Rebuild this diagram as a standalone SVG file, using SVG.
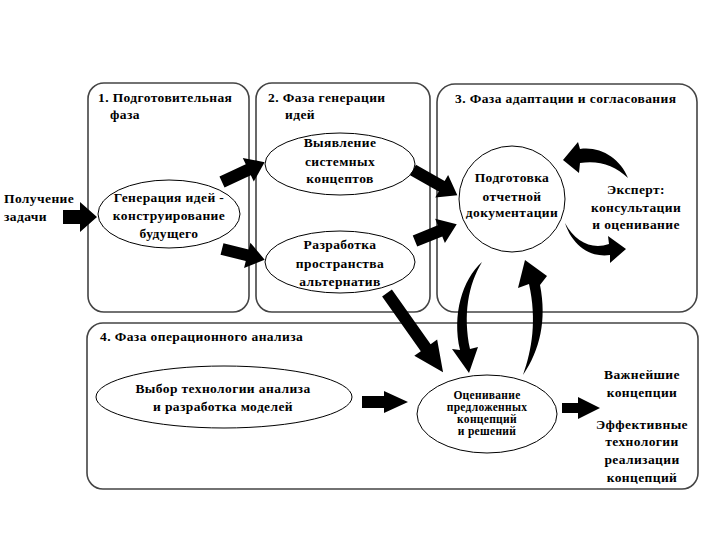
<svg xmlns="http://www.w3.org/2000/svg" width="720" height="540" viewBox="0 0 720 540" font-family="'Liberation Serif', 'DejaVu Serif', serif">
<style>
text{font-family:'Liberation Serif','DejaVu Serif',serif;font-weight:bold;font-size:13.5px;letter-spacing:0.4px;fill:#000}
.c{text-anchor:middle}
.s{font-size:11.5px;letter-spacing:0.3px}
.box{fill:none;stroke:#444;stroke-width:1.6}
.nd{fill:#fff;stroke:#000;stroke-width:1}
.ar{fill:#000;stroke:none}
</style>
<rect width="720" height="540" fill="#fff"/>
<g id="phase1"><rect class="box" x="88" y="83" width="161" height="229" rx="16"/>
<text x="98" y="102">1. Подготовительная</text><text x="110" y="119">фаза</text></g>
<g id="phase2"><rect class="box" x="256" y="83" width="174" height="229" rx="16"/>
<text x="268" y="102">2. Фаза генерации</text><text x="285" y="119">идей</text></g>
<g id="phase3"><rect class="box" x="437" y="84" width="260" height="228" rx="18"/>
<text x="455" y="103">3. Фаза адаптации и согласования</text></g>
<g id="phase4"><rect class="box" x="87" y="323" width="611" height="166" rx="16"/>
<text x="100" y="341">4. Фаза операционного анализа</text></g>

<g id="input"><text x="4" y="203">Получение</text><text x="4" y="221">задачи</text></g>
<g id="gen"><ellipse class="nd" cx="169" cy="214" rx="71" ry="34"/>
<text class="c" x="169" y="202">Генерация идей -</text><text class="c" x="169" y="220">конструирование</text><text class="c" x="169" y="238">будущего</text></g>
<g id="reveal"><ellipse class="nd" cx="340" cy="164" rx="75" ry="31"/>
<text class="c" x="340" y="147">Выявление</text><text class="c" x="340" y="166">системных</text><text class="c" x="340" y="183">концептов</text></g>
<g id="develop"><ellipse class="nd" cx="340" cy="262" rx="75" ry="31"/>
<text class="c" x="340" y="249">Разработка</text><text class="c" x="340" y="268">пространства</text><text class="c" x="340" y="286">альтернатив</text></g>
<g id="docs"><circle class="nd" cx="512" cy="199" r="53"/>
<text class="c" x="512" y="182">Подготовка</text><text class="c" x="512" y="201">отчетной</text><text class="c" x="512" y="217">документации</text></g>
<g id="expert"><text class="c" x="636" y="194">Эксперт:</text><text class="c" x="636" y="212">консультации</text><text class="c" x="636" y="229">и оценивание</text></g>
<g id="choose"><ellipse class="nd" cx="224" cy="397" rx="128" ry="31"/>
<text class="c" x="223" y="393">Выбор технологии анализа</text><text class="c" x="223" y="411">и разработка моделей</text></g>
<g id="evaluate"><ellipse class="nd" cx="487" cy="414" rx="70" ry="39"/>
<text class="c s" x="487" y="399">Оценивание</text><text class="c s" x="487" y="411">предложенных</text><text class="c s" x="487" y="423">концепций</text><text class="c s" x="487" y="435">и решений</text></g>
<g id="results"><text class="c" x="642" y="379">Важнейшие</text><text class="c" x="642" y="397">концепции</text><text class="c" x="642" y="429">Эффективные</text><text class="c" x="642" y="446">технологии</text><text class="c" x="642" y="464">реализации</text><text class="c" x="642" y="482">концепций</text></g>

<g id="connectors">
<polygon class="ar" transform="translate(63,217)" points="0,-7 17,-7 17,-15 34,0 17,15 17,7 0,7"/>
<polygon class="ar" transform="translate(222,182) rotate(-25)" points="0,-6 29,-6 29,-13 47,0 29,13 29,6 0,6"/>
<polygon class="ar" transform="translate(222,249) rotate(14)" points="0,-6 26,-6 26,-13 44,0 26,13 26,6 0,6"/>
<polygon class="ar" transform="translate(413,170) rotate(29.6)" points="0,-6 33,-6 33,-13 51,0 33,13 33,6 0,6"/>
<polygon class="ar" transform="translate(415,241) rotate(-22)" points="0,-6 27,-6 27,-13 45,0 27,13 27,6 0,6"/>
<polygon class="ar" transform="translate(387,293) rotate(54.7)" points="0,-6 67,-6 67,-14 97,0 67,14 67,6 0,6"/>
<polygon class="ar" transform="translate(362,402)" points="0,-6 22,-6 22,-11 46,0 22,11 22,6 0,6"/>
<polygon class="ar" transform="translate(562,408)" points="0,-5 16,-5 16,-11 38,0 16,11 16,5 0,5"/>
<path class="ar" d="M628,178 C620,158 600,146 580,149 L578,142 L563,160 L579,173 L580,163 C598,160 615,165 628,178 Z"/>
<path class="ar" d="M565,223 C575,242 592,250 609,244 L608,236 L626,249 L610,263 L610,255 C590,258 572,245 565,223 Z"/>
<path class="ar" d="M482,262 C462,280 452,315 460,350 L452,349 L469,373 L478,347 L470,349 C463,315 468,285 482,262 Z"/>
<path class="ar" d="M523,375 C540,350 547,320 540,285 L547,276 L525,260 L518,288 L529,284 C537,320 532,350 523,375 Z"/>
</g>
</svg>
